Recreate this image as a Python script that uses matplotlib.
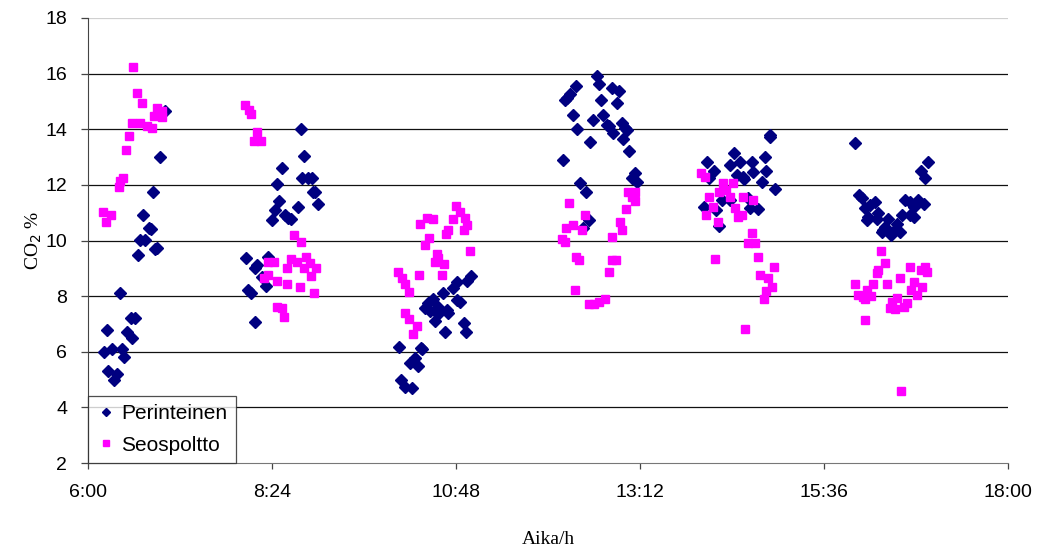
import numpy as np
import matplotlib
matplotlib.use("Agg")
import matplotlib.pyplot as plt

# Aika (tunteina, desimaali) ja CO2-pitoisuus (%)
perinteinen_aika = [
    7.00, 6.94, 6.85, 6.72, 6.79, 6.82, 6.68, 6.74, 6.90, 6.87, 6.65, 6.42, 6.56, 6.61,
    6.25, 6.51, 6.57, 6.21, 6.31, 6.44, 6.47, 6.26, 6.38, 6.34,
    8.78, 8.82, 8.53, 8.79, 8.87, 8.92, 8.47, 8.93, 8.96, 9.00, 8.49, 8.74, 8.44, 8.40,
    8.57, 8.61, 8.65, 8.06, 8.35, 8.20, 8.18, 8.27, 8.32, 8.09, 8.13, 8.18,
    11.00, 10.94, 10.81, 10.76, 10.63, 10.50, 10.44, 10.81, 10.85, 10.39, 10.57, 10.68,
    10.46, 10.56, 10.70, 10.53, 10.90, 10.66, 10.93, 10.06, 10.34, 10.36, 10.26, 10.20,
    10.30, 10.08, 10.14, 10.22,
    12.64, 12.67, 12.37, 12.83, 12.93, 12.29, 12.25, 12.22, 12.69, 12.90, 12.32, 12.72,
    12.59, 12.77, 12.80, 12.96, 13.00, 13.03, 12.38, 12.85, 12.98, 12.55, 13.06, 12.19,
    13.13, 13.09, 13.16, 12.42, 12.50, 12.53, 12.46,
    14.90, 14.89, 14.42, 14.83, 14.08, 14.50, 14.37, 14.66, 14.16, 14.85, 14.68, 14.46,
    14.54, 14.55, 14.10, 14.79, 14.96, 14.27, 14.37, 14.61, 14.03, 14.19, 14.63, 14.74,
    14.23,
    16.01, 16.96, 16.87, 16.92, 16.05, 16.09, 16.26, 16.66, 16.72, 16.83, 16.90, 16.20,
    16.13, 16.31, 16.77, 16.62, 16.72, 16.77, 16.18, 16.16, 16.29, 16.44, 16.55, 16.40,
    16.37, 16.53, 16.59, 16.48, 16.35,
]
perinteinen_co2 = [
    14.66, 13.02, 11.74, 10.90, 10.44, 10.42, 10.02, 10.02, 9.72, 9.70, 9.48, 8.10, 7.20, 7.20,
    6.78, 6.72, 6.49, 5.98, 6.09, 6.09, 5.80, 5.31, 5.19, 4.98,
    14.01, 13.03, 12.62, 12.26, 12.26, 12.26, 12.02, 11.76, 11.74, 11.32, 11.42, 11.22, 11.10, 10.74,
    10.92, 10.82, 10.78, 9.38, 9.42, 9.12, 9.02, 8.70, 8.38, 8.22, 8.10, 7.08,
    8.74, 8.55, 8.50, 8.28, 8.10, 7.90, 7.74, 7.86, 7.78, 7.59, 7.62, 7.50,
    7.47, 7.35, 7.38, 7.10, 7.02, 6.70, 6.70, 6.18, 6.15, 6.10, 5.79, 5.59,
    5.50, 4.98, 4.74, 4.69,
    15.93, 15.62, 15.57, 15.47, 15.36, 15.26, 15.14, 15.06, 15.06, 14.94, 14.52, 14.52,
    14.33, 14.16, 14.10, 14.22, 14.06, 13.98, 14.01, 13.86, 13.65, 13.53, 13.22, 12.91,
    12.42, 12.24, 12.12, 12.05, 11.74, 10.74, 10.44,
    13.80, 13.71, 13.14, 13.02, 12.82, 12.81, 12.72, 12.84, 12.51, 12.51, 12.48, 12.36,
    12.30, 12.20, 12.24, 12.12, 11.84, 11.46, 11.44, 11.52, 11.20, 11.10, 11.16, 11.12,
    10.52,
    13.52, 12.83, 12.49, 12.24, 11.64, 11.52, 11.40, 11.44, 11.40, 11.44, 11.32, 11.28,
    11.16, 11.00, 11.20, 10.92, 10.92, 10.84, 10.84, 10.72, 10.76, 10.76, 10.59, 10.50,
    10.38, 10.38, 10.32, 10.20, 10.32,
]

seospoltto_aika = [
    6.59, 6.64, 6.71, 6.90, 6.96, 6.86, 6.97, 6.57, 6.68, 6.77, 6.83, 6.54, 6.50, 6.46,
    6.42, 6.41, 6.20, 6.30, 6.24,
    8.05, 8.10, 8.13, 8.21, 8.17, 8.26, 8.69, 8.78, 8.35, 8.43, 8.65, 8.72, 8.85, 8.90,
    8.60, 8.82, 8.98, 8.91, 8.35, 8.30, 8.46, 8.59, 8.77, 8.95, 8.47, 8.53, 8.56,
    10.80, 10.85, 10.76, 10.92, 10.42, 10.50, 10.33, 10.94, 10.90, 10.70, 10.67, 10.45,
    10.39, 10.98, 10.55, 10.57, 10.52, 10.65, 10.04, 10.09, 10.13, 10.19, 10.32, 10.62,
    10.14, 10.19, 10.29, 10.24,
    13.05, 13.13, 13.09, 13.13, 12.28, 13.02, 12.48, 12.32, 12.24, 12.45, 12.94, 12.97,
    12.84, 12.18, 12.22, 12.37, 12.41, 12.83, 12.89, 12.79, 12.35, 12.54, 12.60, 12.67,
    12.74,
    14.00, 14.05, 14.28, 14.41, 14.23, 14.32, 14.37, 14.10, 14.54, 14.67, 14.15, 14.44,
    14.06, 14.53, 14.48, 14.22, 14.66, 14.61, 14.70, 14.74, 14.18, 14.95, 14.77, 14.87,
    14.92, 14.84, 14.82, 14.57,
    16.34, 16.39, 16.30, 16.29, 16.72, 16.92, 16.87, 16.94, 16.59, 16.78, 16.00, 16.24,
    16.42, 16.88, 16.74, 16.16, 16.04, 16.11, 16.21, 16.81, 16.13, 16.55, 16.49, 16.46,
    16.52, 16.65, 16.68, 16.14, 16.60,
]
seospoltto_co2 = [
    16.24, 15.30, 14.96, 14.76, 14.64, 14.46, 14.43, 14.24, 14.24, 14.13, 14.04, 13.77, 13.26, 12.26,
    12.14, 11.94, 11.04, 10.92, 10.68,
    14.88, 14.70, 14.54, 13.90, 13.56, 13.56, 10.18, 9.94, 9.24, 9.24, 9.34, 9.22, 9.42, 9.18,
    9.00, 9.00, 9.00, 8.74, 8.76, 8.64, 8.55, 8.43, 8.33, 8.13, 7.62, 7.56, 7.25,
    11.25, 11.04, 10.78, 10.80, 10.82, 10.78, 10.59, 10.56, 10.38, 10.38, 10.23, 10.08,
    9.84, 9.62, 9.50, 9.36, 9.22, 9.17, 8.88, 8.64, 8.43, 8.14, 8.76, 8.76,
    7.38, 7.18, 6.94, 6.63,
    11.76, 11.76, 11.58, 11.42, 11.34, 11.14, 10.92, 10.56, 10.46, 10.36, 10.68, 10.36,
    10.14, 10.06, 9.94, 9.42, 9.30, 9.30, 9.30, 8.86, 8.22, 7.71, 7.71, 7.78,
    7.90,
    12.44, 12.28, 12.08, 12.08, 11.76, 11.82, 11.56, 11.56, 11.56, 11.44, 11.22, 11.16,
    10.92, 10.92, 10.84, 10.68, 10.26, 9.92, 9.92, 9.42, 9.33, 9.06, 8.76, 8.64,
    8.32, 8.20, 7.89, 6.81,
    9.64, 9.20, 8.94, 8.82, 9.06, 9.04, 8.94, 8.85, 8.64, 8.52, 8.44, 8.44,
    8.44, 8.34, 8.22, 8.22, 8.04, 7.98, 8.00, 8.04, 7.89, 7.92, 7.80, 7.56,
    7.53, 7.60, 7.74, 7.14, 4.60,
]

x_ticks = [6.0, 8.4, 10.8, 13.2, 15.6, 18.0]
x_labels = ["6:00", "8:24", "10:48", "13:12", "15:36", "18:00"]
y_ticks = [2, 4, 6, 8, 10, 12, 14, 16, 18]

plt.rcParams['font.family'] = ['Liberation Sans', 'DejaVu Sans']

fig = plt.figure(figsize=(10.48, 5.5), dpi=100)
ax = fig.add_axes([88/1048, 1 - 463/550, 920/1048, 445/550])

ax.plot(perinteinen_aika, perinteinen_co2, linestyle='none', marker='D', markersize=5.8,
        color='#000080', label='Perinteinen', zorder=3)
ax.plot(seospoltto_aika, seospoltto_co2, linestyle='none', marker='s', markersize=6.2,
        color='#FF00FF', label='Seospoltto', zorder=4)

ax.set_xlim(6, 18)
ax.set_ylim(2, 18)
ax.set_xticks(x_ticks)
ax.set_xticklabels(x_labels)
ax.set_yticks(y_ticks)

for y in y_ticks[1:-1]:
    ax.axhline(y, color='#111111', linewidth=0.9, zorder=1)
ax.axhline(18, color='#d0d0d0', linewidth=0.9, zorder=1)

for side in ['top', 'right']:
    ax.spines[side].set_visible(False)
ax.spines['left'].set_color('#444444')
ax.spines['bottom'].set_color('#777777')
ax.tick_params(axis='both', labelsize=14, color='#444444', length=5, width=0.9)
ax.tick_params(axis='x', pad=11, length=4)
ax.tick_params(axis='y', pad=10)

ax.set_xlabel('Aika/h', family='Liberation Serif', fontsize=14, labelpad=22)
ax.set_ylabel('CO$_2$ %', family='Liberation Serif', fontsize=14, labelpad=1)

leg = ax.legend(loc='lower left', bbox_to_anchor=(0.0, 0.0), fontsize=15, frameon=True,
                fancybox=False, edgecolor='#222222', borderaxespad=0, handletextpad=0.3,
                handlelength=0.9, borderpad=0.4, labelspacing=0.6, markerscale=0.75)
leg.get_frame().set_linewidth(0.9)
leg.set_zorder(5)

fig.savefig('out.png', dpi=100)
